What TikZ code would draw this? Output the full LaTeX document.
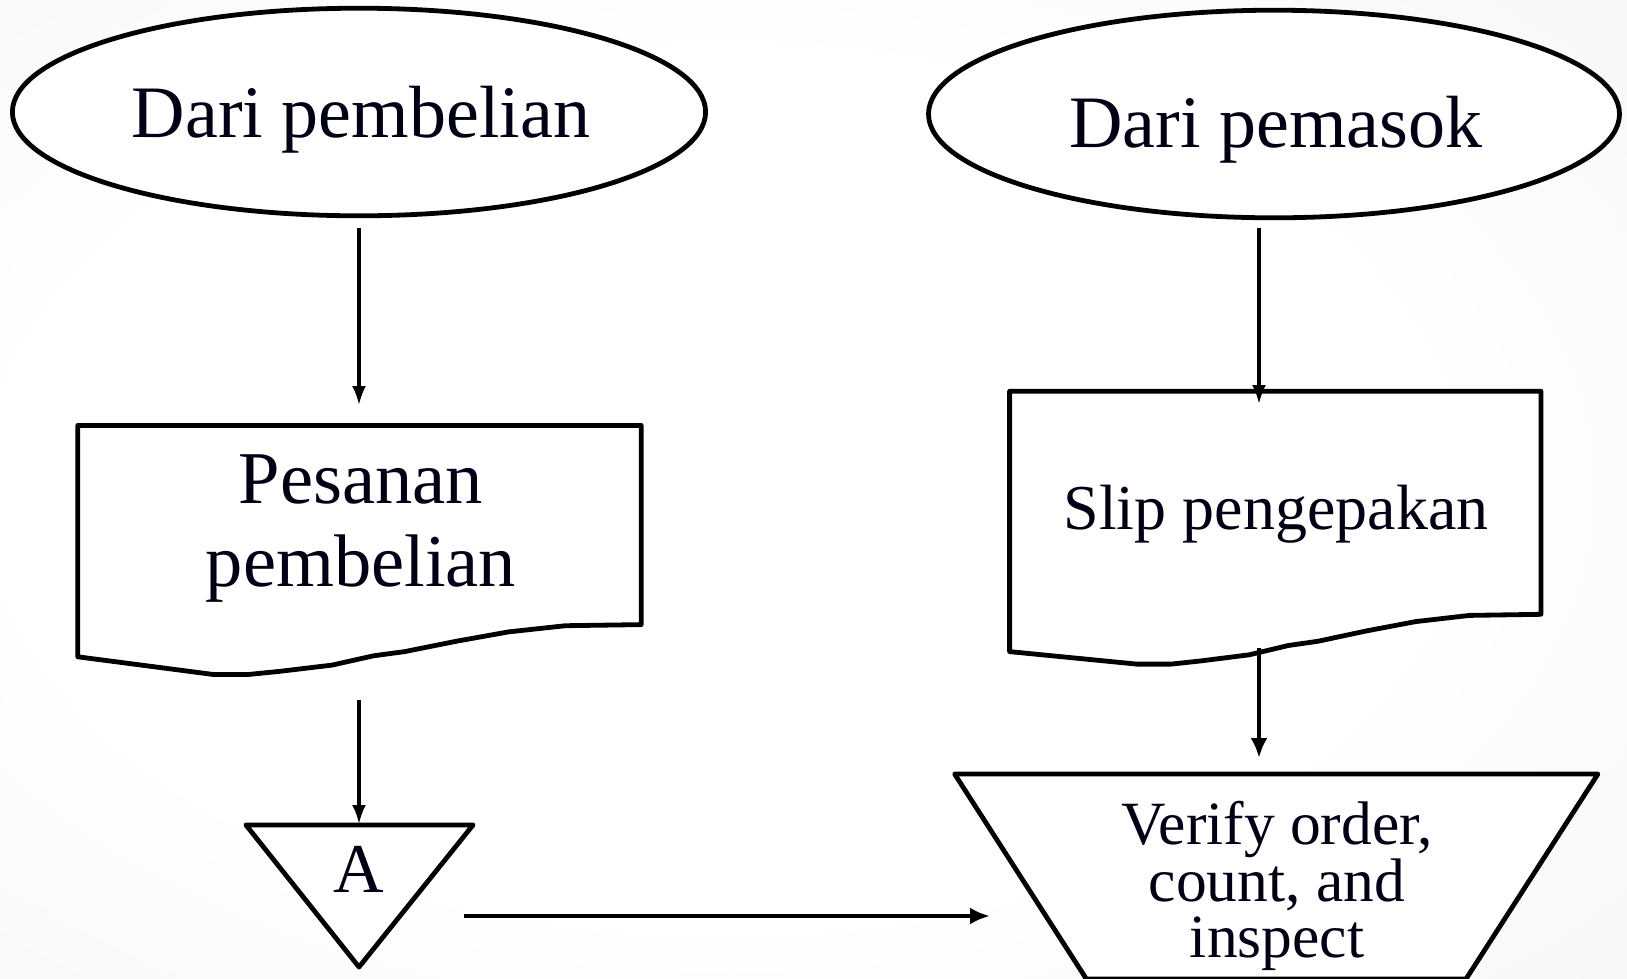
\documentclass[tikz,border=0pt]{standalone}
\usepackage{fontspec}
\setmainfont{Liberation Serif}
\usetikzlibrary{arrows.meta,shapes.geometric}
\pgfdeclareradialshading{bgshade}{\pgfpoint{-4bp}{0bp}}{color(0bp)=(white); color(22bp)=(white); color(50bp)=(black!6); color(72bp)=(black!14)}
\tikzset{
  x=1pt, y=-1pt,
  outline/.style={draw=black, line width=4.8pt, fill=white, line join=round},
  thinarrow/.style={draw=black, line width=3.2pt, -{Latex[length=19pt,width=14pt]}},
  thickarrow/.style={draw=black, line width=4.8pt, -{Latex[length=20pt,width=17pt]}},
  lbl/.style={anchor=base, align=center, inner sep=0pt, text=black!92!blue}
}
\begin{document}
\begin{tikzpicture}
\useasboundingbox (0,0) rectangle (1627,978);
\shade[shading=bgshade] (0,0) rectangle (1627,978);

% ellipses
\draw[outline] (359,112) ellipse [x radius=346.6pt, y radius=103.8pt];
\node[lbl, font=\fontsize{74}{80}\selectfont] (e1) at (361,137) {Dari pembelian};
\draw[outline] (1274,114) ellipse [x radius=345.5pt, y radius=103.8pt];
\node[lbl, font=\fontsize{74}{80}\selectfont] (e2) at (1276,147) {Dari pemasok};

% document 1
\draw[outline] (77.8,656.8) -- (77.8,425.4) -- (641.2,425.4) -- (641.2,624.6)
  -- (565.5,625.7) -- (508.4,631.9) -- (456.5,641.2) -- (404.7,651.6) -- (373.5,655.8)
  -- (332,665.1) -- (280,671.3) -- (249,674.4) -- (212.7,674.4) -- cycle;
\node[lbl, font=\fontsize{74.5}{83}\selectfont] (d1) at (361,586) {Pesanan\\pembelian};

% document 2
\draw[outline] (1009.6,651.6) -- (1009.6,391.2) -- (1540.9,391.2) -- (1540.9,614.3)
  -- (1469.4,615.4) -- (1415.6,621.6) -- (1366.5,630.9) -- (1317.7,641.3) -- (1288.3,645.5)
  -- (1249.2,654.8) -- (1200.1,661.0) -- (1171.0,664.1) -- (1136.8,664.1) -- cycle;
\node[lbl, font=\fontsize{64}{70}\selectfont] (d2) at (1276,529) {Slip pengepakan};

% off-page connector triangle
\draw[outline] (245.9,824.9) -- (473.1,824.9) -- (359,967) -- cycle;
\node[lbl, font=\fontsize{70}{76}\selectfont] (ta) at (359,892) {A};

% manual operation trapezoid
\draw[outline] (954.6,774) -- (1597.9,774) -- (1466,979) -- (1086.4,979) -- cycle;
\node[lbl, font=\fontsize{61.5}{55.5}\selectfont] (tr) at (1277,957) {Verify order,\\count, and\\inspect};

% connectors
\coordinate (a1s) at (359,228);   \coordinate (a1e) at (359,405);
\coordinate (a2s) at (1259,228);  \coordinate (a2e) at (1259,404);
\coordinate (a3s) at (1259,648);  \coordinate (a3e) at (1259,758);
\coordinate (a4s) at (359,700);   \coordinate (a4e) at (359,824);
\coordinate (a5s) at (463.8,916); \coordinate (a5e) at (990,916);
\draw[thinarrow] (a1s) -- (a1e);
\draw[thinarrow] (a2s) -- (a2e);
\draw[thickarrow] (a3s) -- (a3e);
\draw[thinarrow] (a4s) -- (a4e);
\draw[thickarrow] (a5s) -- (a5e);
\end{tikzpicture}
\end{document}
